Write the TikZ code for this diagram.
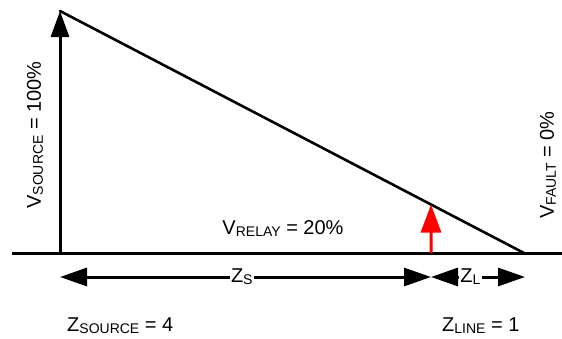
\documentclass[tikz,border=0pt]{standalone}
\usepackage{fontspec}
\setmainfont{Liberation Sans}
\usetikzlibrary{arrows.meta,calc}
\newcommand\mysub[1]{\raisebox{-2pt}{\fontsize{14}{14}\selectfont #1}}
\tikzset{
  mainline/.style={line width=3pt},
  bigtip/.style={-{Triangle[length=26pt,width=18pt]}},
  dimline/.style={line width=3pt,{Triangle[length=27pt,width=18pt]}-{Triangle[length=27pt,width=18pt]}},
  lbl/.style={font=\fontsize{20}{22}\selectfont, inner sep=1pt},
  dimlbl/.style={lbl, fill=white, inner sep=1.5pt}
}
\begin{document}
\begin{tikzpicture}[x=1pt,y=-1pt]
\useasboundingbox (0,0) rectangle (562,338);
\coordinate (apex) at (60,11);
\coordinate (origin) at (60,253);
\coordinate (fault) at (524,253);
\coordinate (lend) at (12,253);
\coordinate (rend) at (562,253);
\coordinate (relay) at (431,253);
\coordinate (rtop) at ($(apex)!0.7996!(fault)$);
\coordinate (zsl) at (60,277);
\coordinate (zsr) at (431,277);
\coordinate (zll) at (431,277);
\coordinate (zlr) at (525,277);
% baseline
\draw[mainline] (lend) -- (rend);
% vertical source arrow
\draw[mainline, bigtip] (origin) -- (apex);
% diagonal
\draw[line width=2.6pt, line cap=round] (apex) -- (fault);
% red relay arrow
\draw[line width=3pt, red, -{Triangle[length=28pt,width=20pt]}] (relay) -- (rtop);
% dimension arrows
\draw[dimline] (zsl) -- node[dimlbl, pos=0.49] (zs) {Z\mysub{S}} (zsr);
\draw[dimline] (zll) -- node[dimlbl, pos=0.42] (zl) {Z\mysub{L}} (zlr);
% labels
\node[lbl, rotate=90] (vsrc) at (35,135) {V\mysub{SOURCE} = 100\%};
\node[lbl, rotate=90] (vflt) at (548,165) {V\mysub{FAULT} = 0\%};
\node[lbl] (vrel) at (283,229) {V\mysub{RELAY} = 20\%};
\node[lbl, anchor=west] (zsrc) at (66,326) {Z\mysub{SOURCE} = 4};
\node[lbl, anchor=west] (zlin) at (441,326) {Z\mysub{LINE} = 1};
\end{tikzpicture}
\end{document}
